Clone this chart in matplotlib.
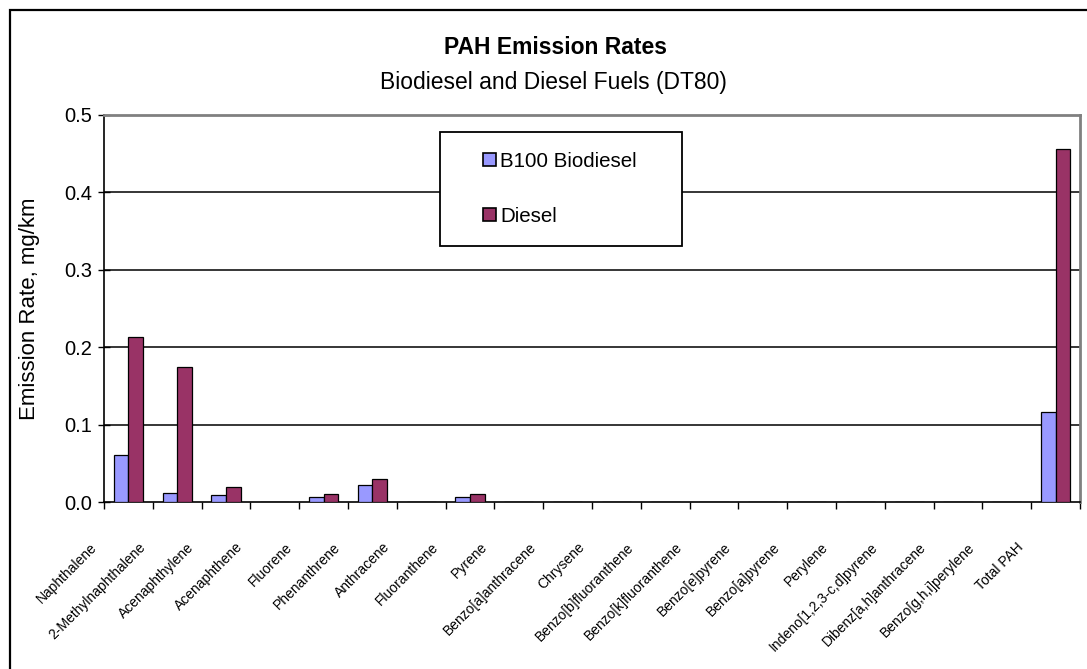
import numpy as np
import matplotlib
matplotlib.use('Agg')
from matplotlib import pyplot as plt
from matplotlib.patches import Rectangle
from matplotlib.transforms import ScaledTranslation

plt.rcParams['font.family'] = ['Liberation Sans', 'DejaVu Sans']

compounds = ['Naphthalene', '2-Methylnaphthalene', 'Acenaphthylene', 'Acenaphthene',
             'Fluorene', 'Phenanthrene', 'Anthracene', 'Fluoranthene', 'Pyrene',
             'Benzo[a]anthracene', 'Chrysene', 'Benzo[b]fluoranthene',
             'Benzo[k]fluoranthene', 'Benzo[e]pyrene', 'Benzo[a]pyrene', 'Perylene',
             'Indeno[1,2,3-c,d]pyrene', 'Dibenz[a,h]anthracene', 'Benzo[g,h,i]perylene',
             'Total PAH']
b100 = [0.061, 0.012, 0.009, 0.0, 0.007, 0.022, 0.0, 0.007, 0.0, 0.0,
        0.0, 0.0, 0.0, 0.0, 0.0, 0.0, 0.0, 0.0, 0.0, 0.116]
diesel = [0.213, 0.175, 0.020, 0.0, 0.010, 0.030, 0.0, 0.010, 0.0, 0.0,
          0.0, 0.0, 0.0, 0.0, 0.0, 0.0, 0.0, 0.0, 0.0, 0.456]
yticks = [0.0, 0.1, 0.2, 0.3, 0.4, 0.5]

fig = plt.figure(figsize=(10.87, 6.69), dpi=100)
ax = fig.add_axes([104/1087, 1-502/669, 976/1087, 387/669])

x = np.arange(len(compounds))
w = 0.3
ax.bar(x - w/2, b100, w, color='#9999FF', edgecolor='black', linewidth=0.9,
       label='B100 Biodiesel', zorder=3)
ax.bar(x + w/2, diesel, w, color='#993366', edgecolor='black', linewidth=0.9,
       label='Diesel', zorder=3)

ax.set_xlim(-0.5, len(compounds) - 0.5)
ax.set_ylim(0, 0.5)
ax.set_yticks(yticks)
ax.set_yticklabels(['%.1f' % v for v in yticks], fontsize=14.5)
for v in yticks[1:-1]:
    ax.axhline(v, color='black', linewidth=1.1, zorder=1)

# category labels at centres, tick marks at boundaries
ax.set_xticks(x)
ax.set_xticklabels(compounds, rotation=45, ha='right', va='center',
                   rotation_mode='anchor', fontsize=10)
ax.tick_params(axis='x', which='major', length=0, pad=31)
ax.set_xticks(np.arange(len(compounds) + 1) - 0.5, minor=True)
ax.tick_params(axis='x', which='minor', length=5, width=1, direction='out')
ax.tick_params(axis='y', length=9, width=1, direction='inout', pad=4)
off = ScaledTranslation(-34/100, 0, fig.dpi_scale_trans)
for lab in ax.get_xticklabels():
    lab.set_transform(lab.get_transform() + off)

ax.spines['left'].set_linewidth(1.2)
ax.spines['bottom'].set_linewidth(1.2)
for s in ['top', 'right']:
    ax.spines[s].set_color('#808080')
    ax.spines[s].set_linewidth(2)

ax.set_ylabel('Emission Rate, mg/km', fontsize=16)
ax.yaxis.set_label_coords(-64/976, 0.5)

# legend box
ax.add_patch(Rectangle((0.344, 0.661), 0.248, 0.294, transform=ax.transAxes,
                       facecolor='white', edgecolor='black', linewidth=1.3, zorder=4))
leg = ax.legend(loc='upper left', bbox_to_anchor=(0.388, 0.905), frameon=False,
                fontsize=14.8, handlelength=0.65, handleheight=0.65,
                handletextpad=0.2, labelspacing=1.75, borderpad=0,
                borderaxespad=0)
leg.set_zorder(5)
for h in leg.legend_handles:
    h.set_edgecolor('black')
    h.set_linewidth(1.2)

fig.text(556/1087, 1-47/669, 'PAH Emission Rates', ha='center', va='center',
         fontsize=16.5, fontweight='bold')
fig.text(553/1087, 1-82/669, 'Biodiesel and Diesel Fuels (DT80)', ha='center',
         va='center', fontsize=16.5)

fig.add_artist(Rectangle((10/1087, -0.05), 1.1, 1.05 - 10/669,
                         transform=fig.transFigure, fill=False, edgecolor='black',
                         linewidth=1.6, clip_on=False))

fig.savefig('out.png', dpi=100)
